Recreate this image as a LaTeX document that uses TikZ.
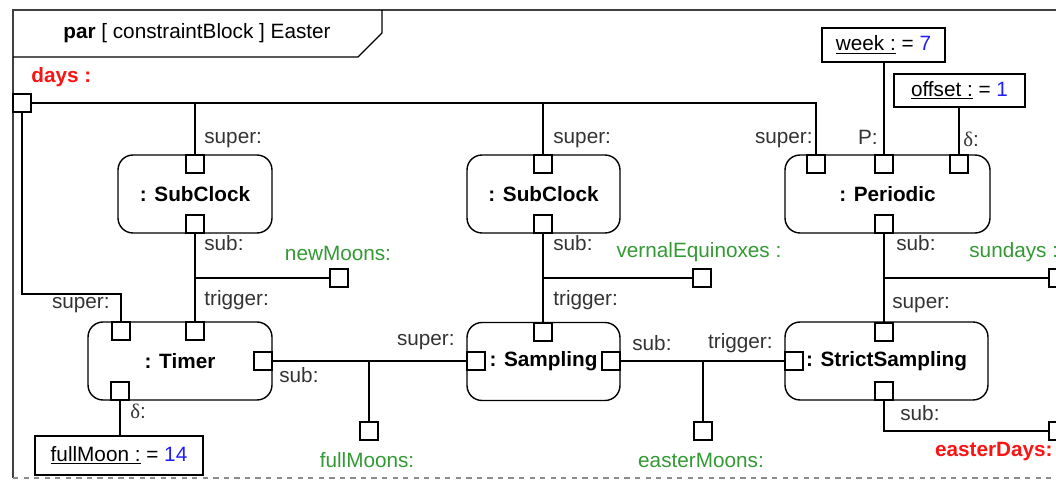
\documentclass[tikz,border=0pt]{standalone}
\usepackage{fontspec}
\setmainfont{Liberation Sans}
\newfontfamily\grk{Liberation Serif}
\usetikzlibrary{calc}
\definecolor{flowgreen}{RGB}{51,153,51}
\definecolor{valblue}{RGB}{30,30,255}
\definecolor{outred}{RGB}{250,20,20}
\newcommand\lbl{\fontsize{11.8}{14}\selectfont}
\tikzset{
  part/.style={draw,rounded corners=0.3cm,minimum height=1.56cm,font=\lbl\bfseries,line width=0.8pt},
  port/.style={draw,fill=white,minimum size=0.36cm,inner sep=0pt,line width=0.8pt},
  valbox/.style={draw,line width=1.1pt,font=\lbl},
  role/.style={inner sep=0pt,text=black!80},
  flow/.style={inner sep=0pt,text=flowgreen},
  wire/.style={line width=0.8pt}
}
\begin{document}
\begin{tikzpicture}[x=0.02cm,y=-0.02cm,font=\lbl]
\useasboundingbox(0,0)rectangle(1056,480);
\clip(0,0)rectangle(1056,480);
% frame and heading
\draw[line width=1.2pt,black!75](1060,10)--(13,10)--(13,478);
\draw[dashed,black!45,line width=0.8pt](13,478)--(1060,478);
\draw[line width=0.8pt](13,57)--(358,57)--(382,33)--(382,10);
\node(title)at(197,33){\textbf{par} [ constraintBlock ] Easter};
\node[anchor=west,inner sep=0pt,text=outred,font=\lbl\bfseries](dayslbl)at(31,77){days :};
% constraint parts
\node[part,minimum width=3.08cm](sc1)at(195,194){: SubClock};
\node[part,minimum width=3.06cm](sc2)at(543.5,194){: SubClock};
\node[part,minimum width=4.1cm](per)at(887.5,194){: Periodic};
\node[part,minimum width=3.68cm](tim)at(180,361){: Timer};
\node[part,minimum width=3.06cm](smp)at(543.5,361.5){: Sampling};
\node[part,minimum width=4.06cm](ss)at(886.5,361){: StrictSampling};
% value properties
\node[valbox,minimum width=2.46cm,minimum height=0.68cm](week)at(883.5,45){\underline{week :} = \textcolor{valblue}{7}};
\node[valbox,minimum width=2.62cm,minimum height=0.66cm](offs)at(959.5,90.5){\underline{offset :} = \textcolor{valblue}{1}};
\node[valbox,minimum width=3.36cm,minimum height=0.78cm](fmoon)at(119,455.5){\underline{fullMoon :} = \textcolor{valblue}{14}};
% ports on the parts
\node[port](sc1s)at(195,164){};\node[port](sc1b)at(195,224){};
\node[port](sc2s)at(543,164){};\node[port](sc2b)at(543,224){};
\node[port](pers)at(816,164){};\node[port](perP)at(884,164){};\node[port](perd)at(959,164){};\node[port](perb)at(884,224){};
\node[port](tims)at(121,331){};\node[port](timt)at(195,331){};\node[port](timr)at(263,361){};\node[port](timd)at(120,391){};
\node[port](smpl)at(476,361){};\node[port](smpt)at(543,332){};\node[port](smpr)at(611,361){};
\node[port](ssl)at(794,361){};\node[port](sst)at(884,332){};\node[port](ssb)at(884,391){};
% boundary ports
\coordinate(bend)at(22,294);
\node[port](days)at(22,103){};
\node[port](newm)at(339,278){};\node[port](vern)at(702,278){};\node[port](sund)at(1058,278){};
\node[port](fmns)at(369,431){};\node[port](emns)at(703,431){};\node[port](eday)at(1058,431){};
% wires
\draw[wire](days.east)-|(pers.north);
\draw[wire](sc1s.north)--(sc1s.north|-days);\draw[wire](sc2s.north)--(sc2s.north|-days);
\draw[wire](days.south)--(bend)-|(tims.north);
\draw[wire](sc1b.south)--(timt.north);\draw[wire](sc1b|-newm)--(newm.west);
\draw[wire](sc2b.south)--(smpt.north);\draw[wire](sc2b|-vern)--(vern.west);
\draw[wire](perb.south)--(sst.north);\draw[wire](perb|-sund)--(sund.west);
\draw[wire](ssb.south)|-(eday.west);
\draw[wire](timr.east)--(smpl.west);\draw[wire](fmns.north)--(fmns|-timr);
\draw[wire](smpr.east)--(ssl.west);\draw[wire](emns.north)--(emns|-smpr);
\draw[wire](perP.north)--(perP.north|-week.south);\draw[wire](perd.north)--(perd.north|-offs.south);
\draw[wire](timd.south)--(timd.south|-fmoon.north);
% role names
\node[role,anchor=west](l1)at(204,140){super:};\node[role,anchor=west](l2)at(204,243){sub:};\node[role,anchor=west](l3)at(204,300){trigger:};
\node[role,anchor=east](l4)at(110,305){super:};\node[role,anchor=west](l5)at(130,411){{\grk δ}:};\node[role,anchor=west](l6)at(279,375){sub:};
\node[role,anchor=east](l7)at(455,342){super:};
\node[role,anchor=west](l8)at(553,140){super:};\node[role,anchor=west](l9)at(553,243){sub:};\node[role,anchor=west](l10)at(553,300){trigger:};
\node[role,anchor=west](l11)at(632,343){sub:};\node[role,anchor=east](l12)at(773,343){trigger:};
\node[role,anchor=east](l13)at(813,140){super:};\node[role,anchor=east](l14)at(878,137){P:};\node[role,anchor=west](l15)at(963,139){{\grk δ}:};
\node[role,anchor=west](l16)at(896,243){sub:};\node[role,anchor=west](l17)at(892,305){super:};\node[role,anchor=west](l18)at(900,413){sub:};
% flows
\node[flow](f1)at(338,253){newMoons:};\node[flow](f2)at(699,252){vernalEquinoxes :};\node[flow,anchor=west](f3)at(969,252){sundays :};
\node[flow](f4)at(367,460){fullMoons:};\node[flow](f5)at(701,460){easterMoons:};
\node[anchor=east,inner sep=0pt,text=outred,font=\lbl\bfseries](f6)at(1053,452){easterDays:};
\end{tikzpicture}
\end{document}
